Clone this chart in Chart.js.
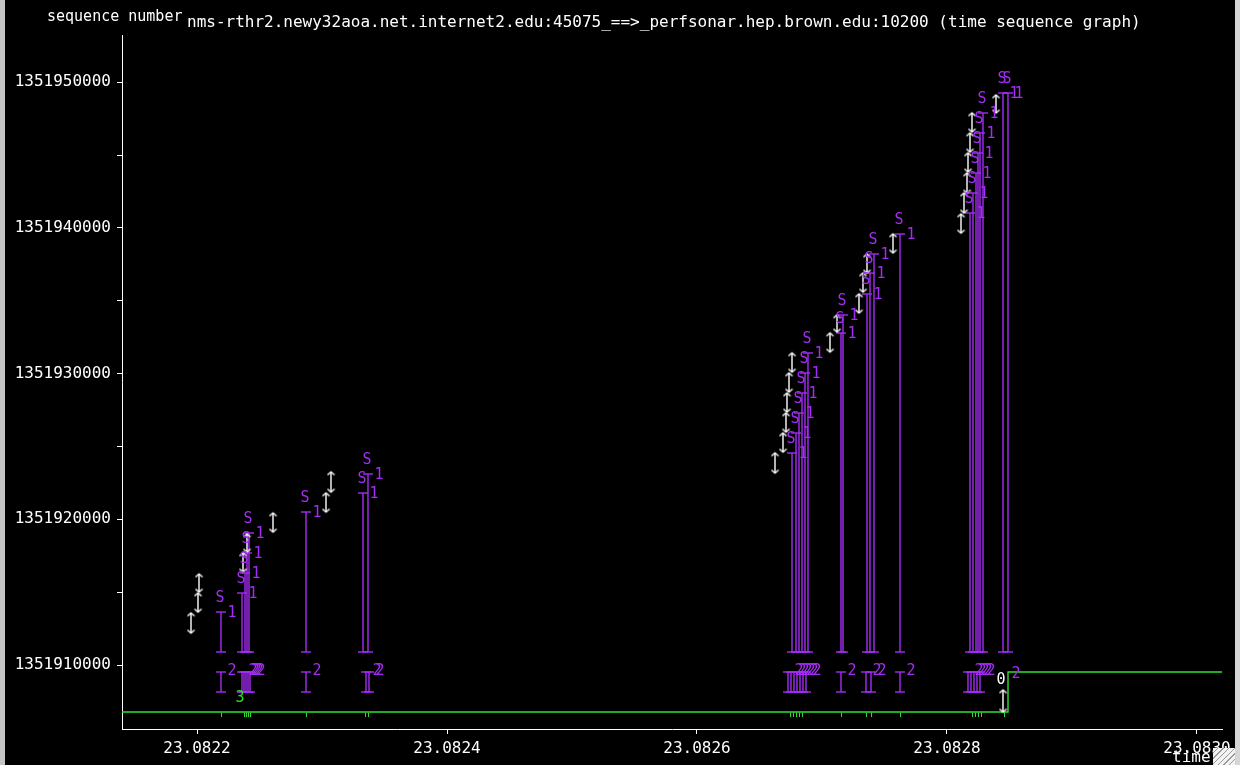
<!DOCTYPE html>
<html>
<head>
<meta charset="utf-8">
<script src="https://cdn.jsdelivr.net/npm/chart.js@4.4.0/dist/chart.umd.min.js"></script>
<style>
  html, body { margin: 0; padding: 0; background: #000; overflow: hidden; }
  #wrap { position: relative; width: 1240px; height: 765px; }
  .edge { position: absolute; top: 0; width: 5px; height: 765px; }
  #edgeL { left: 0; background: #c4c4c4; }
  #edgeR { right: 0; background: #d6d6d6; }
  #grip { position: absolute; left: 1213px; top: 748px; width: 22px; height: 17px;
          background: repeating-linear-gradient(135deg, #f2f2f2 0 3px, #9a9a9a 3px 4px); }
</style>
</head>
<body>
<div id="wrap">
  <canvas id="seqChart" width="1240" height="765"></canvas>
  <div class="edge" id="edgeL"></div>
  <div class="edge" id="edgeR"></div>
  <div id="grip"></div>
</div>
<script>
const chartTitle = 'nms-rthr2.newy32aoa.net.internet2.edu:45075_==>_perfsonar.hep.brown.edu:10200 (time sequence graph)';
const yTitle = 'sequence number';
const xTitle = 'time';

// axis range and ticks
const xMin = 23.08214, xMax = 23.08302;
const yMin = 1351905608, yMax = 1351953237;
const xTicks = [23.0822, 23.0824, 23.0826, 23.0828, 23.0830];
const yTicks = [1351910000, 1351915000, 1351920000, 1351925000, 1351930000,
                1351935000, 1351940000, 1351945000, 1351950000];

// ack line (green)
const ackTimes = [23.08214, 23.0828488, 23.0828488, 23.08302];
const ackSeqs  = [1351906774, 1351906774, 1351909520, 1351909520];
// ack ticks hanging under the ack line
const ackTickTimes = [23.0822192, 23.0822376, 23.0822392, 23.0822408, 23.0822424, 23.0822872,
                      23.0823344, 23.0823368, 23.0826744, 23.0826768, 23.0826792, 23.0826816,
                      23.0826840, 23.0827152, 23.0827352, 23.0827392, 23.0827624, 23.0828200,
                      23.0828224, 23.0828248, 23.0828272, 23.0828456];
const ackTickSeq = 1351906774;

// data segments (white arrows)
const segTimes  = [23.0821952, 23.0822008, 23.0822016, 23.0822368, 23.0822400, 23.0822608,
                   23.0823032, 23.0823072, 23.0826624, 23.0826688, 23.0826712, 23.0826720,
                   23.0826736, 23.0826760, 23.0827064, 23.0827120, 23.0827296, 23.0827328,
                   23.0827360, 23.0827568, 23.0828112, 23.0828136, 23.0828160, 23.0828168,
                   23.0828184, 23.0828200, 23.0828392, 23.0828448];
const segStarts = [1351912196, 1351913637, 1351915010, 1351916383, 1351917755, 1351919128,
                   1351920500, 1351921873, 1351923177, 1351924618, 1351925991, 1351927363,
                   1351928736, 1351930108, 1351931481, 1351932854, 1351934158, 1351935599,
                   1351936903, 1351938276, 1351939648, 1351941021, 1351942393, 1351943835,
                   1351945207, 1351946580, 1351947884, 1351906774];
const segEnds   = [1351913569, 1351914941, 1351916245, 1351917687, 1351918991, 1351920432,
                   1351921804, 1351923246, 1351924550, 1351925922, 1351927295, 1351928667,
                   1351930040, 1351931413, 1351932785, 1351934021, 1351935462, 1351936903,
                   1351938207, 1351939580, 1351940952, 1351942393, 1351943766, 1351945139,
                   1351946511, 1351947884, 1351949119, 1351908284];

// SACK blocks (purple, "S" / "1")
const sackTimes = [23.0822192, 23.0822360, 23.0822384, 23.0822400, 23.0822416, 23.0822872,
                   23.0823328, 23.0823368, 23.0826760, 23.0826792, 23.0826816, 23.0826840,
                   23.0826864, 23.0826888, 23.0827152, 23.0827168, 23.0827360, 23.0827384,
                   23.0827416, 23.0827624, 23.0828184, 23.0828208, 23.0828232, 23.0828248,
                   23.0828264, 23.0828288, 23.0828448, 23.0828488];
const sackTops  = [1351913637, 1351914941, 1351916314, 1351917687, 1351919059, 1351920500,
                   1351921804, 1351923108, 1351924550, 1351925922, 1351927295, 1351928667,
                   1351930040, 1351931413, 1351932785, 1351934021, 1351935462, 1351936903,
                   1351938207, 1351939580, 1351941021, 1351942393, 1351943766, 1351945139,
                   1351946511, 1351947884, 1351949256, 1351949256];
const sackBase = 1351910892;

// short purple bars with "2"
const dupTimes = [23.0822192, 23.0822360, 23.0822376, 23.0822392, 23.0822408, 23.0822424,
                  23.0822872, 23.0823352, 23.0823376, 23.0826728, 23.0826752, 23.0826776,
                  23.0826800, 23.0826824, 23.0826848, 23.0826872, 23.0827152, 23.0827352,
                  23.0827392, 23.0827624, 23.0828168, 23.0828192, 23.0828216, 23.0828240,
                  23.0828264];
const dupLow = 1351908147, dupHigh = 1351909520;

// lone text marks
const markTexts = ['3', '0', '2'];
const markTimes = [23.0822344, 23.0828432, 23.0828552];
const markSeqs  = [1351907735, 1351908971, 1351909382];

const purple = '#a52cf5';
const green = '#2ee02e';
Chart.defaults.font.family = '"DejaVu Sans Mono", monospace';

function bars(times, lows, highs) {
    const out = [];
    times.forEach((t, i) => {
        const lo = Array.isArray(lows) ? lows[i] : lows;
        const hi = Array.isArray(highs) ? highs[i] : highs;
        out.push({x: t, y: lo}, {x: t, y: hi}, {x: t, y: null});
    });
    return out;
}

function chevron() {
    const c = document.createElement('canvas');
    c.width = 9; c.height = 9;
    const g = c.getContext('2d');
    g.strokeStyle = '#fff';
    g.lineWidth = 1.4;
    g.beginPath();
    g.moveTo(1, 7.5); g.lineTo(4.5, 4.5); g.lineTo(8, 7.5);
    g.stroke();
    return c;
}
function tickMark() {
    const c = document.createElement('canvas');
    c.width = 1; c.height = 9;
    const g = c.getContext('2d');
    g.fillStyle = green;
    g.fillRect(0, 5, 1, 4);
    return c;
}
const arrowHead = chevron();
const ackTickImg = tickMark();

const textPlugin = {
    id: 'tcptraceText',
    afterDraw(chart) {
        const {ctx} = chart;
        const xs = chart.scales.x, ys = chart.scales.y;
        ctx.save();
        ctx.textBaseline = 'middle';
        ctx.fillStyle = '#fff';
        ctx.font = '15px "DejaVu Sans Mono"';
        ctx.fillText(yTitle, 47, 17);
        ctx.font = '16px "DejaVu Sans Mono"';
        ctx.fillText(chartTitle, 187, 23);
        ctx.fillText(xTitle, 1172, 758);

        ctx.font = '15px "DejaVu Sans Mono"';
        ctx.textAlign = 'center';
        ctx.fillStyle = purple;
        sackTimes.forEach((t, i) => {
            const px = xs.getPixelForValue(t), py = ys.getPixelForValue(sackTops[i]);
            ctx.fillText('S', px - 1, py - 14);
            ctx.fillText('1', px + 11, py + 1);
        });
        dupTimes.forEach(t => {
            ctx.fillText('2', xs.getPixelForValue(t) + 11, ys.getPixelForValue(dupHigh) - 1);
        });
        const markColors = [green, '#ffffff', purple];
        markTexts.forEach((s, i) => {
            ctx.fillStyle = markColors[i];
            ctx.fillText(s, xs.getPixelForValue(markTimes[i]), ys.getPixelForValue(markSeqs[i]));
        });
        ctx.restore();
    }
};

const ctx = document.getElementById('seqChart').getContext('2d');
const chart = new Chart(ctx, {
    type: 'scatter',
    data: {
        datasets: [{
            label: 'segments',
            data: bars(segTimes, segStarts, segEnds),
            showLine: true,
            borderColor: '#fff',
            borderWidth: 1.4,
            pointStyle: arrowHead,
            pointRotation: c => (c.dataIndex % 3 === 0 ? 180 : 0),
            pointRadius: 4
        }, {
            label: 'sack',
            data: bars(sackTimes, sackBase, sackTops),
            showLine: true,
            borderColor: purple,
            borderWidth: 1.4,
            pointStyle: 'line',
            pointRadius: 5,
            pointBorderColor: purple,
            pointBorderWidth: 1.4
        }, {
            label: 'dup',
            data: bars(dupTimes, dupLow, dupHigh),
            showLine: true,
            borderColor: purple,
            borderWidth: 1.4,
            pointStyle: 'line',
            pointRadius: 5,
            pointBorderColor: purple,
            pointBorderWidth: 1.4
        }, {
            label: 'ack ticks',
            data: ackTickTimes.map(t => ({x: t, y: ackTickSeq})),
            showLine: false,
            pointStyle: ackTickImg,
            pointRadius: 4
        }, {
            label: 'ack',
            data: ackTimes.map((t, i) => ({x: t, y: ackSeqs[i]})),
            showLine: true,
            borderColor: green,
            borderWidth: 1.4,
            pointRadius: 0
        }]
    },
    options: {
        responsive: false,
        animation: false,
        events: [],
        layout: { padding: { left: 0, right: 18, top: 35, bottom: 0 } },
        plugins: { legend: { display: false }, tooltip: { enabled: false } },
        scales: {
            x: {
                type: 'linear',
                min: xMin, max: xMax,
                afterFit: s => { s.height = 36; },
                afterBuildTicks: a => { a.ticks = xTicks.map(v => ({value: v})); },
                ticks: { color: '#fff', font: { size: 16 }, padding: 5, maxRotation: 0, autoSkip: false,
                         callback: v => v.toFixed(4) },
                grid: { drawOnChartArea: false, tickLength: 5, color: '#fff' },
                border: { color: '#fff', width: 1 }
            },
            y: {
                type: 'linear',
                min: yMin, max: yMax,
                afterFit: s => { s.width = 122; },
                afterBuildTicks: a => { a.ticks = yTicks.map(v => ({value: v})); },
                ticks: { color: '#fff', font: { size: 16 }, padding: 6, autoSkip: false,
                         callback: v => (v % 10000 === 0 ? String(v) : '') },
                grid: { drawOnChartArea: false, tickLength: 5, color: '#fff' },
                border: { color: '#fff', width: 1 }
            }
        }
    },
    plugins: [textPlugin]
});
</script>
</body>
</html>
